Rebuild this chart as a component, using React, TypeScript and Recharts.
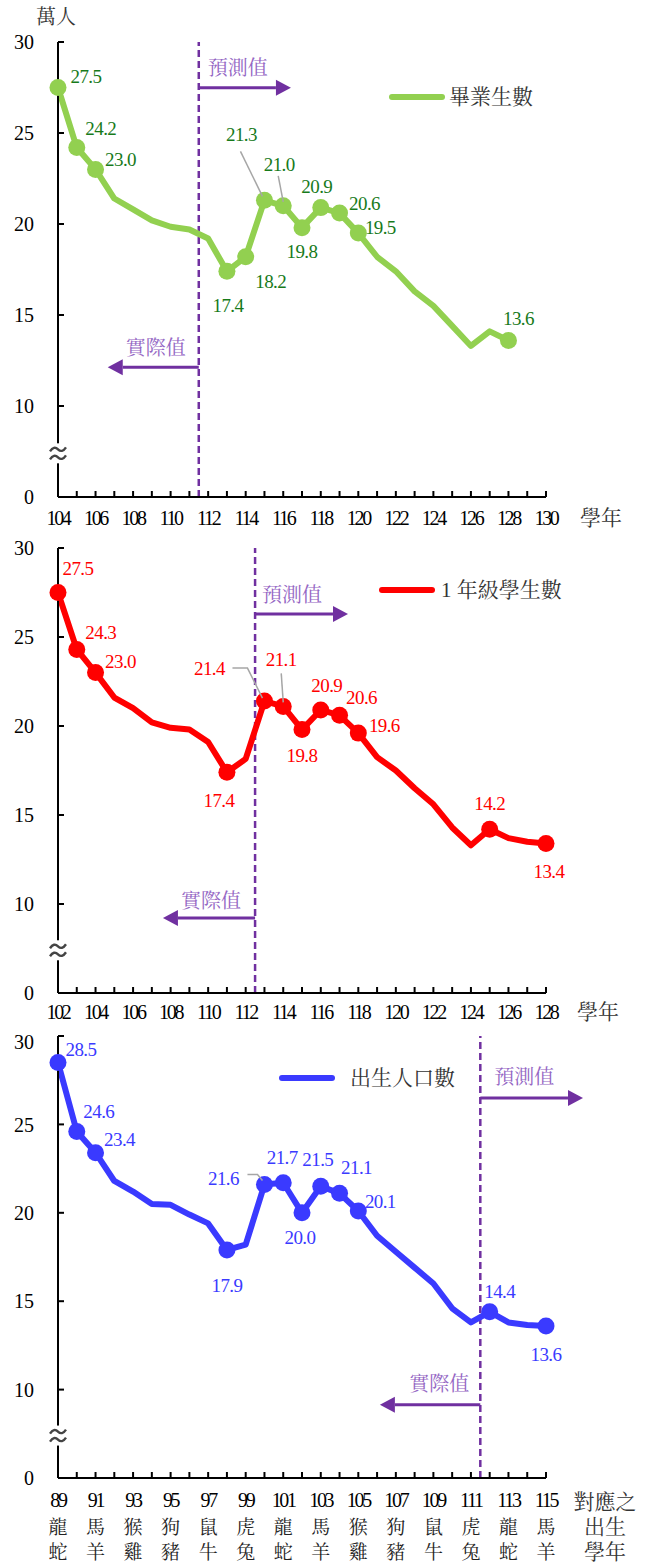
import React from 'react';
import { LineChart, Line, XAxis, YAxis, ReferenceLine, ReferenceDot, LabelList, Legend } from 'recharts';

const SERIF = '"Liberation Serif", "Times New Roman", serif';
const CJK = '"Liberation Serif", "Noto Serif CJK TC", "Noto Sans CJK TC", serif';
const PURPLE = '#7030a0';
const PURPLE_TEXT = '#9466c4';
const LEADER = '#a6a6a6';

// ---- 畢業生數 (萬人), 104–128 學年
const gradYears = [104, 105, 106, 107, 108, 109, 110, 111, 112, 113, 114, 115, 116, 117, 118, 119, 120, 121, 122, 123, 124, 125, 126, 127, 128];
const gradValues = [27.5, 24.2, 23.0, 21.4, 20.8, 20.2, 19.85, 19.7, 19.2, 17.4, 18.2, 21.3, 21.0, 19.8, 20.9, 20.6, 19.5, 18.2, 17.4, 16.3, 15.5, 14.4, 13.3, 14.1, 13.6];
const gradMarked = [104, 105, 106, 113, 114, 115, 116, 117, 118, 119, 120, 128];
const gradTicks = [104, 105, 106, 107, 108, 109, 110, 111, 112, 113, 114, 115, 116, 117, 118, 119, 120, 121, 122, 123, 124, 125, 126, 127, 128, 129, 130];

// ---- 1 年級學生數 (萬人), 102–128 學年
const firstYears = [102, 103, 104, 105, 106, 107, 108, 109, 110, 111, 112, 113, 114, 115, 116, 117, 118, 119, 120, 121, 122, 123, 124, 125, 126, 127, 128];
const firstValues = [27.5, 24.3, 23.0, 21.6, 21.0, 20.2, 19.9, 19.8, 19.1, 17.4, 18.15, 21.4, 21.1, 19.8, 20.9, 20.6, 19.6, 18.25, 17.5, 16.5, 15.6, 14.3, 13.3, 14.2, 13.7, 13.5, 13.4];
const firstMarked = [102, 103, 104, 111, 113, 114, 115, 116, 117, 118, 125, 128];

// ---- 出生人口數 (萬人), 89–115 年
const birthYears = [89, 90, 91, 92, 93, 94, 95, 96, 97, 98, 99, 100, 101, 102, 103, 104, 105, 106, 107, 108, 109, 110, 111, 112, 113, 114, 115];
const birthValues = [28.5, 24.6, 23.4, 21.8, 21.2, 20.5, 20.45, 19.9, 19.4, 17.9, 18.2, 21.6, 21.7, 20.0, 21.5, 21.1, 20.1, 18.7, 17.8, 16.9, 16.0, 14.6, 13.8, 14.4, 13.8, 13.65, 13.6];
const birthMarked = [89, 90, 91, 98, 100, 101, 102, 103, 104, 105, 112, 115];
const birthLabelYears = [89, 91, 93, 95, 97, 99, 101, 103, 105, 107, 109, 111, 113, 115];
const zodiacTop = ['龍', '馬', '猴', '狗', '鼠', '虎', '龍', '馬', '猴', '狗', '鼠', '虎', '龍', '馬'];
const zodiacBottom = ['蛇', '羊', '雞', '豬', '牛', '兔', '蛇', '羊', '雞', '豬', '牛', '兔', '蛇', '羊'];

const yTicks = [5, 10, 15, 20, 25, 30];

// label placement relative to the point: [dx, dy]
const gradLabelPos: Record<number, number[]> = {
  104: [28, -11], 105: [24, -19], 106: [25, -10], 113: [1, 34], 114: [25, 25], 115: [-23, -66],
  116: [-4, -41], 117: [0, 24], 118: [-4, -21], 119: [25, -10], 120: [22, -6], 128: [10, -22],
};
const gradLeaders: Record<number, number[][]> = {
  115: [[-24, -49], [-2, -4]],
  116: [[-5, -30], [0, -4]],
};
const firstLabelPos: Record<number, number[]> = {
  102: [20, -24], 103: [24, -17], 104: [25, -11], 111: [-8, 28], 113: [-55, -33], 114: [-2, -47],
  115: [0, 26], 116: [6, -24], 117: [22, -18], 118: [26, -8], 125: [0, -26], 128: [3, 28],
};
const firstLeaders: Record<number, number[][]> = {
  113: [[-32, -33], [-17, -33], [-2, -3]],
  114: [[-2, -33], [0, -4]],
};
const birthLabelPos: Record<number, number[]> = {
  89: [23, -13], 90: [22, -20], 91: [24, -13], 98: [0, 36], 100: [-41, -6], 101: [-1, -25],
  102: [-2, 25], 103: [-3, -27], 104: [17, -26], 105: [22, -10], 112: [10, -20], 115: [0, 29],
};
const birthLeaders: Record<number, number[][]> = {
  100: [[-17, -10], [-7, -10], [-2, -4]],
};

const toRows = (years: number[], values: number[]) => years.map((year, i) => ({ year, v: values[i] }));

const makeDot = (years: number[], marked: number[], color: string) => (props: any) => {
  const { cx, cy, index } = props;
  if (!marked.includes(years[index])) return <g key={`d${index}`} />;
  return <circle key={`d${index}`} cx={cx} cy={cy} r={8.5} fill={color} />;
};

const makeLabel = (years: number[], pos: Record<number, number[]>, leaders: Record<number, number[][]>, color: string) => (props: any) => {
  const { x, y, value, index } = props;
  const year = years[index];
  const p = pos[year];
  if (!p) return null;
  const lead = leaders[year];
  return (
    <g key={`l${index}`}>
      {lead && (
        <polyline
          points={lead.map(([dx, dy]) => `${x + dx},${y + dy}`).join(' ')}
          fill="none"
          stroke={LEADER}
          strokeWidth={1.5}
        />
      )}
      <text x={x + p[0]} y={y + p[1]} textAnchor="middle" dominantBaseline="central" fill={color} fontSize={19} fontFamily={SERIF} letterSpacing={-0.6}>
        {Number(value).toFixed(1)}
      </text>
    </g>
  );
};

const arrowShape = (text: string, tdx: number, tdy: number) => (props: any) => {
  const { x1, y1, x2, y2 } = props;
  const dir = x2 > x1 ? 1 : -1;
  const tail = x2 - dir * 15;
  return (
    <g>
      <line x1={x1} y1={y1} x2={tail} y2={y2} stroke={PURPLE} strokeWidth={3} />
      <polygon points={`${x2},${y2} ${tail},${y2 - 8} ${tail},${y2 + 8}`} fill={PURPLE} />
      <text x={x1 + tdx} y={y1 + tdy} textAnchor={dir > 0 ? 'start' : 'end'} dominantBaseline="central" fill={PURPLE_TEXT} fontSize={20} fontFamily={CJK}>
        {text}
      </text>
    </g>
  );
};

// axis break: two stacked waves over the y axis
const breakMark = (props: any) => {
  const { cx, cy } = props;
  const wave = (oy: number) => `M${cx - 8},${cy + oy + 2} q4,-6 8,-2 t8,-2`;
  return (
    <g>
      <rect x={cx - 6} y={cy - 10} width={12} height={20} fill="#fff" />
      <path d={wave(-4)} fill="none" stroke="#444" strokeWidth={2.4} />
      <path d={wave(4)} fill="none" stroke="#444" strokeWidth={2.4} />
    </g>
  );
};

const evenTick = (dy: number) => (props: any) => {
  const { x, y, payload } = props;
  if (payload.value % 2 !== 0) return <g />;
  return (
    <text x={x} y={y + dy} textAnchor="middle" dominantBaseline="central" fontSize={20} letterSpacing={-2.3} fontFamily={SERIF} fill="#000">
      {payload.value}
    </text>
  );
};

const oddTick = (props: any) => {
  const { x, y, payload } = props;
  const i = birthLabelYears.indexOf(payload.value);
  if (i < 0) return <g />;
  return (
    <g>
      <text x={x} y={y + 22} textAnchor="middle" dominantBaseline="central" fontSize={20} letterSpacing={-2.3} fontFamily={SERIF} fill="#000">
        {payload.value}
      </text>
      <text x={x} y={y + 49} textAnchor="middle" dominantBaseline="central" fontSize={19} fontFamily={CJK} fill="#222">{zodiacTop[i]}</text>
      <text x={x} y={y + 74} textAnchor="middle" dominantBaseline="central" fontSize={19} fontFamily={CJK} fill="#222">{zodiacBottom[i]}</text>
    </g>
  );
};

const LegendBox = ({ color, text, gap }: { color: string; text: string; gap: number }) => (
  <div style={{ display: 'flex', alignItems: 'center', whiteSpace: 'nowrap' }}>
    <svg width={56} height={10}>
      <line x1={3} y1={5} x2={53} y2={5} stroke={color} strokeWidth={6} strokeLinecap="round" />
    </svg>
    <span style={{ marginLeft: gap, fontSize: 21, color: '#333', fontFamily: CJK, lineHeight: '26px' }}>{text}</span>
  </div>
);

const axisProps = {
  axisLine: { stroke: '#000', strokeWidth: 2 },
  tickLine: { stroke: '#000', strokeWidth: 2 },
};

const yTickFmt = (v: number) => (v === 5 ? '0' : String(v));

interface PanelProps {
  height: number;
  top: number;
  bottom: number;
  rows: { year: number; v: number }[];
  years: number[];
  ticks: number[];
  domain: [number, number];
  color: string;
  labelColor: string;
  marked: number[];
  labelPos: Record<number, number[]>;
  leaders: Record<number, number[][]>;
  split: number;
  fore: { y: number; x: number; tdx: number; tdy: number };
  actual: { y: number; x: number; tdx: number; tdy: number };
  legend: { text: string; left: number; top: number; gap: number };
  tick: any;
  xLabel: (p: any) => any;
  yLabel?: (p: any) => any;
}

function Panel(p: PanelProps) {
  return (
    <LineChart width={646} height={p.height} data={p.rows} margin={{ top: p.top, right: 100, left: 18, bottom: p.bottom }}>
      <XAxis
        dataKey="year"
        type="number"
        domain={p.domain}
        ticks={p.ticks}
        interval={0}
        tickSize={-6}
        tickMargin={6}
        height={30}
        tick={p.tick}
        label={p.xLabel}
        {...axisProps}
      />
      <YAxis
        type="number"
        domain={[5, 30]}
        ticks={yTicks}
        tickFormatter={yTickFmt}
        width={40}
        tickSize={-6}
        tickMargin={30}
        tick={{ fontSize: 20, fill: '#000', fontFamily: SERIF }}
        label={p.yLabel}
        {...axisProps}
      />
      <Legend
        verticalAlign="middle"
        align="center"
        layout="horizontal"
        wrapperStyle={{ position: 'absolute', left: p.legend.left, top: p.legend.top, width: 'auto' }}
        content={() => <LegendBox color={p.color} text={p.legend.text} gap={p.legend.gap} />}
      />
      <ReferenceLine x={p.split} stroke={PURPLE} strokeWidth={2.5} strokeDasharray="7 4" />
      <ReferenceLine
        segment={[{ x: p.split, y: p.fore.y }, { x: p.fore.x, y: p.fore.y }]}
        ifOverflow="visible"
        shape={arrowShape('預測值', p.fore.tdx, p.fore.tdy)}
      />
      <ReferenceLine
        segment={[{ x: p.split, y: p.actual.y }, { x: p.actual.x, y: p.actual.y }]}
        ifOverflow="visible"
        shape={arrowShape('實際值', p.actual.tdx, p.actual.tdy)}
      />
      <ReferenceDot x={p.domain[0]} y={7.4} ifOverflow="visible" shape={breakMark} />
      <Line
        type="linear"
        dataKey="v"
        stroke={p.color}
        strokeWidth={6}
        strokeLinejoin="round"
        dot={makeDot(p.years, p.marked, p.color)}
        activeDot={false}
        isAnimationActive={false}
      >
        <LabelList dataKey="v" content={makeLabel(p.years, p.labelPos, p.leaders, p.labelColor)} />
      </Line>
    </LineChart>
  );
}

const sideText = (lines: string[], dx: number, dys: number[]) => (props: any) => {
  const vb = props.viewBox;
  return (
    <g>
      {lines.map((t, i) => (
        <text key={t} x={vb.x + vb.width + dx} y={vb.y + dys[i]} textAnchor="middle" dominantBaseline="central" fontSize={21} fill="#333" fontFamily={CJK}>
          {t}
        </text>
      ))}
    </g>
  );
};

const unitLabel = (props: any) => {
  const vb = props.viewBox;
  return (
    <text x={vb.x + vb.width - 2} y={vb.y - 25} textAnchor="middle" dominantBaseline="central" fontSize={20} fill="#333" fontFamily={CJK}>
      萬人
    </text>
  );
};

export default function App() {
  return (
    <div style={{ position: 'absolute', left: 0, top: 0, width: 646, height: 1566, background: '#fff' }}>
      <Panel
        height={530}
        top={42}
        bottom={3}
        rows={toRows(gradYears, gradValues)}
        years={gradYears}
        ticks={gradTicks}
        domain={[104, 130]}
        color="#92d050"
        labelColor="#177a1a"
        marked={gradMarked}
        labelPos={gradLabelPos}
        leaders={gradLeaders}
        split={111.5}
        fore={{ y: 27.49, x: 116.41, tdx: 9, tdy: -20 }}
        actual={{ y: 12.13, x: 106.65, tdx: -13, tdy: -19 }}
        legend={{ text: '畢業生數', left: 389, top: 84, gap: 4 }}
        tick={evenTick(21)}
        xLabel={sideText(['學年'], 55, [21])}
        yLabel={unitLabel}
      />
      <Panel
        height={500}
        top={18}
        bottom={7}
        rows={toRows(firstYears, firstValues)}
        years={firstYears}
        ticks={firstYears}
        domain={[102, 128]}
        color="#ff0000"
        labelColor="#ff0000"
        marked={firstMarked}
        labelPos={firstLabelPos}
        leaders={firstLeaders}
        split={112.5}
        fore={{ y: 26.29, x: 117.45, tdx: 7, tdy: -19 }}
        actual={{ y: 9.21, x: 107.59, tdx: -14, tdy: -17 }}
        legend={{ text: '1 年級學生數', left: 379, top: 47, gap: 6 }}
        tick={evenTick(19)}
        xLabel={sideText(['學年'], 52, [19])}
      />
      <Panel
        height={536}
        top={6}
        bottom={58}
        rows={toRows(birthYears, birthValues)}
        years={birthYears}
        ticks={birthYears}
        domain={[89, 115]}
        color="#3a3aff"
        labelColor="#3a3aff"
        marked={birthMarked}
        labelPos={birthLabelPos}
        leaders={birthLeaders}
        split={111.5}
        fore={{ y: 26.5, x: 116.97, tdx: 14, tdy: -21 }}
        actual={{ y: 9.15, x: 106.15, tdx: -11, tdy: -21 }}
        legend={{ text: '出生人口數', left: 279, top: 35, gap: 15 }}
        tick={oddTick}
        xLabel={sideText(['對應之', '出生', '學年'], 59, [24, 49, 74])}
      />
    </div>
  );
}
